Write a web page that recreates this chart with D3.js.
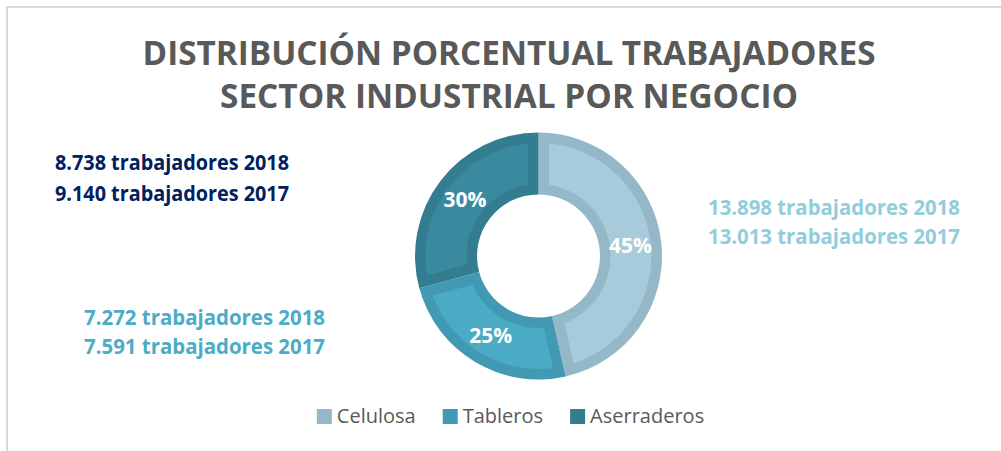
<!DOCTYPE html>
<html>
<head>
<meta charset="utf-8">
<script src="https://cdn.jsdelivr.net/npm/d3@7"></script>
<style>
  html, body { margin: 0; padding: 0; background: #fff; }
  svg { display: block; }
</style>
</head>
<body>
<div id="chart"></div>
<script>
// datos
const categories = ["Celulosa", "Tableros", "Aserraderos"];
const workers2018 = [13898, 7272, 8738];
const workers2017 = [13013, 7591, 9140];
const pctLabels = ["45%", "25%", "30%"];
const titleLines = ["DISTRIBUCIÓN PORCENTUAL TRABAJADORES", "SECTOR INDUSTRIAL POR NEGOCIO"];

const fillColors = ["#a7cbdb", "#4aabc5", "#3a8a9f"];
const borderColors = ["#94b8c8", "#4299b4", "#347c90"];
const noteColors = ["#92cddc", "#4bacc6", "#002060"];

const width = 1001, height = 451;
const cx = 538.5, cy = 256;
const rOuter = 123.5, rInner = 61.5, band = 10.5;

const svg = d3.select("#chart").append("svg")
  .attr("width", width)
  .attr("height", height)
  .style("font-family", "'Open Sans', sans-serif");

// marco del área del gráfico
svg.append("rect")
  .attr("x", 7).attr("y", 7)
  .attr("width", width + 20).attr("height", height + 20)
  .attr("fill", "none")
  .attr("stroke", "#d9d9d9")
  .attr("stroke-width", 2);

// título
svg.append("g").selectAll("text")
  .data(titleLines)
  .join("text")
  .attr("x", 509)
  .attr("y", (d, i) => 65 + i * 43)
  .attr("text-anchor", "middle")
  .attr("font-size", 34)
  .attr("font-weight", 700)
  .attr("fill", "#595959")
  .attr("textLength", (d, i) => i === 0 ? 733 : 578)
  .attr("lengthAdjust", "spacingAndGlyphs")
  .text(d => d);

// anillo
const pie = d3.pie().sort(null).value(d => d);
const arcs = pie(workers2018);

const outerArc = d3.arc().innerRadius(rInner).outerRadius(rOuter);
const innerArc = d3.arc()
  .innerRadius(rInner + band)
  .outerRadius(rOuter - band)
  .padRadius(100)
  .padAngle(2 * Math.asin(band / 100));
const labelArc = d3.arc().innerRadius((rInner + rOuter) / 2).outerRadius((rInner + rOuter) / 2);

const donut = svg.append("g").attr("transform", `translate(${cx},${cy})`);

donut.selectAll("path.border")
  .data(arcs)
  .join("path")
  .attr("class", "border")
  .attr("fill", (d, i) => borderColors[i])
  .attr("d", outerArc);

donut.selectAll("path.fill")
  .data(arcs)
  .join("path")
  .attr("class", "fill")
  .attr("fill", (d, i) => fillColors[i])
  .attr("d", innerArc);

donut.selectAll("text")
  .data(arcs)
  .join("text")
  .attr("transform", d => `translate(${labelArc.centroid(d)})`)
  .attr("dy", "0.36em")
  .attr("text-anchor", "middle")
  .attr("font-size", 21)
  .attr("font-weight", 700)
  .attr("fill", "#fff")
  .text((d, i) => pctLabels[i]);

// notas con número de trabajadores
const es = d3.formatLocale({ decimal: ",", thousands: ".", grouping: [3], currency: ["", ""] });
const fmt = es.format(",");

const notePos = [
  { x: 708, y: 215, dy: 28.5, w: 252 },
  { x: 84, y: 325, dy: 28.5, w: 241 },
  { x: 55, y: 170, dy: 31, w: 234 }
];

categories.forEach((c, i) => {
  const p = notePos[i];
  const lines = [`${fmt(workers2018[i])} trabajadores 2018`, `${fmt(workers2017[i])} trabajadores 2017`];
  svg.append("g").selectAll("text")
    .data(lines)
    .join("text")
    .attr("x", p.x)
    .attr("y", (d, j) => p.y + j * p.dy)
    .attr("font-size", 21)
    .attr("font-weight", 700)
    .attr("fill", noteColors[i])
    .attr("textLength", p.w)
    .attr("lengthAdjust", "spacingAndGlyphs")
    .text(d => d);
});

// leyenda
const legend = svg.append("g");
const items = legend.selectAll("g")
  .data(categories)
  .join("g");

items.append("rect")
  .attr("width", 15)
  .attr("height", 15)
  .attr("y", 409)
  .attr("fill", (d, i) => borderColors[i]);

items.append("text")
  .attr("x", 20)
  .attr("y", 423)
  .attr("font-size", 20)
  .attr("fill", "#595959")
  .text(d => d);

let xPos = 0;
const offsets = [];
items.each(function () {
  offsets.push(xPos);
  const w = d3.select(this).select("text").node().getComputedTextLength();
  xPos += 20 + w + 27;
});
const total = xPos - 27;
const startX = 510.5 - total / 2;
items.attr("transform", (d, i) => `translate(${startX + offsets[i]},0)`);
</script>
</body>
</html>
